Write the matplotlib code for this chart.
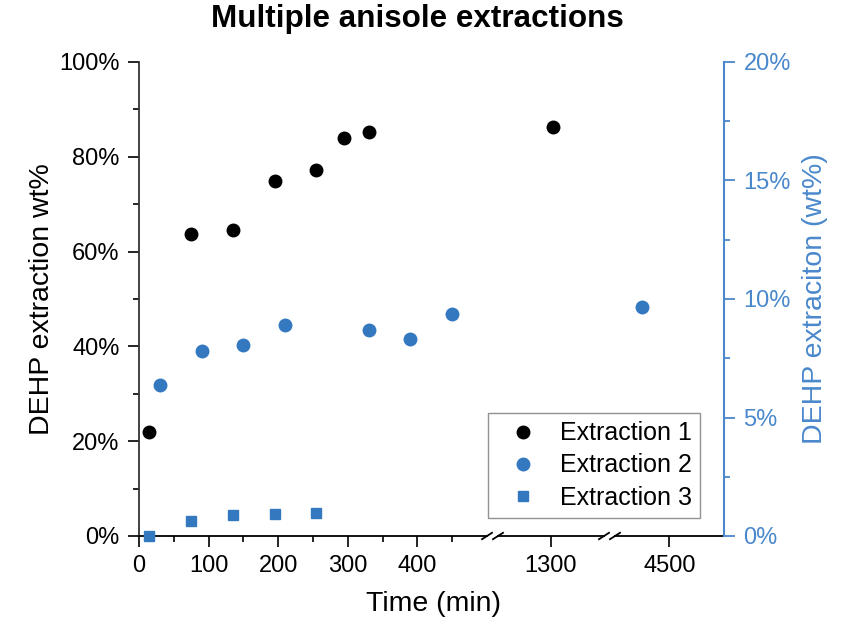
import matplotlib
matplotlib.use("Agg")
import matplotlib.pyplot as plt
from matplotlib.ticker import MultipleLocator, FuncFormatter, FixedLocator

plt.rcParams['font.family'] = ['Liberation Sans', 'DejaVu Sans']

# ---- data ----
t1 = [15, 75, 135, 195, 255, 295, 330, 1303]
e1 = [21.9, 63.8, 64.6, 74.8, 77.3, 83.9, 85.2, 86.2]          # left axis, %

t2 = [30, 90, 150, 210, 330, 390, 450, 4462]
e2 = [6.38, 7.82, 8.07, 8.92, 8.70, 8.32, 9.37, 9.68]          # right axis, %

t3 = [15, 75, 135, 195, 255]
e3 = [-0.02, 0.64, 0.89, 0.94, 0.99]                            # right axis, %

seg_limits = [(0, 500), (1225, 1375), (4425, 4575)]
seg_major = [[0, 100, 200, 300, 400], [1300], [4500]]
seg_minor = [[50, 150, 250, 350, 450], [], []]

BLUE = '#3479C0'
AXBLUE = '#4A88CC'
W, H = 846, 627

fig = plt.figure(figsize=(W / 100, H / 100), dpi=100)

bottom_px, top_px = 536, 62
seg_px = [(139, 487), (498, 604), (615, 724)]

def fx(px):
    return px / W

def fy(py):
    return 1 - py / H

axes = []
twins = []
for i, (x0, x1) in enumerate(seg_px):
    ax = fig.add_axes([fx(x0), fy(bottom_px), fx(x1 - x0), (bottom_px - top_px) / H])
    ax.set_xlim(*seg_limits[i])
    ax.set_ylim(0, 100)
    tw = ax.twinx()
    tw.set_ylim(0, 20)
    for a in (ax, tw):
        for s in ('top', 'right', 'left'):
            a.spines[s].set_visible(False)
        a.patch.set_visible(False)
    tw.spines['bottom'].set_visible(False)
    ax.xaxis.set_major_locator(FixedLocator(seg_major[i]))
    ax.xaxis.set_minor_locator(FixedLocator(seg_minor[i]))
    ax.tick_params(axis='x', which='major', direction='out', length=8, width=1.2,
                   labelsize=17, pad=6, color='black')
    ax.tick_params(axis='x', which='minor', direction='out', length=4.5, width=1.2)
    ax.tick_params(axis='y', left=False, labelleft=False)
    tw.tick_params(axis='y', right=False, labelright=False)
    ax.spines['bottom'].set_linewidth(1.3)
    axes.append(ax)
    twins.append(tw)

# left y axis
axL = axes[0]
axL.spines['left'].set_visible(True)
axL.spines['left'].set_linewidth(1.3)
axL.spines['left'].set_color('#333333')
axL.yaxis.set_major_locator(MultipleLocator(20))
axL.yaxis.set_minor_locator(MultipleLocator(10))
axL.yaxis.set_major_formatter(FuncFormatter(lambda v, p: f"{v:.0f}%"))
axL.tick_params(axis='y', which='both', left=True, labelleft=True, direction='out',
                width=1.2, labelsize=17, pad=6)
axL.tick_params(axis='y', which='major', length=8)
axL.tick_params(axis='y', which='minor', length=4.5)

# right y axis
axR = twins[2]
axR.spines['right'].set_visible(True)
axR.spines['right'].set_color(AXBLUE)
axR.spines['right'].set_linewidth(1.5)
axR.yaxis.set_major_locator(MultipleLocator(5))
axR.yaxis.set_minor_locator(MultipleLocator(2.5))
axR.yaxis.set_major_formatter(FuncFormatter(lambda v, p: f"{v:.0f}%"))
axR.tick_params(axis='y', which='both', right=True, labelright=True, direction='out',
                width=1.3, labelsize=17, pad=6, colors=AXBLUE)
axR.tick_params(axis='y', which='major', length=8)
axR.tick_params(axis='y', which='minor', length=4.5)

# data
h1 = h2 = h3 = None
for i in range(3):
    lo, hi = seg_limits[i]
    x1s = [t for t in t1 if lo <= t <= hi]
    y1s = [v for t, v in zip(t1, e1) if lo <= t <= hi]
    x2s = [t for t in t2 if lo <= t <= hi]
    y2s = [v for t, v in zip(t2, e2) if lo <= t <= hi]
    x3s = [t for t in t3 if lo <= t <= hi]
    y3s = [v for t, v in zip(t3, e3) if lo <= t <= hi]
    a = axes[i].plot(x1s, y1s, 'o', color='black', ms=9, clip_on=False, label='Extraction 1')
    b = twins[i].plot(x2s, y2s, 'o', color=BLUE, ms=9, clip_on=False, label='Extraction 2')
    c = twins[i].plot(x3s, y3s, 's', color=BLUE, ms=7.5, clip_on=False, label='Extraction 3')
    if i == 0:
        h1, h2, h3 = a[0], b[0], c[0]

# break marks
def slash(xc):
    fig.add_artist(plt.Line2D([fx(xc - 5), fx(xc + 5)], [fy(bottom_px + 3.2), fy(bottom_px - 3.2)],
                              color='black', lw=1.3, transform=fig.transFigure))

for xc in (487, 498, 604, 615):
    slash(xc)

# legend
leg = fig.legend([h1, h2, h3], ['Extraction 1', 'Extraction 2', 'Extraction 3'],
                 loc='upper left', bbox_to_anchor=(fx(488), fy(413)),
                 fontsize=18, frameon=True, fancybox=False, borderpad=0.33,
                 handlelength=2.1, handletextpad=0.45, labelspacing=0.33, borderaxespad=0)
leg.get_frame().set_edgecolor('#777777')
leg.get_frame().set_linewidth(1.0)

# labels
fig.text(fx(417.5), fy(19), 'Multiple anisole extractions', ha='center', va='center',
         fontsize=22.6, fontweight='bold')
fig.text(fx(433.5), fy(604), 'Time (min)', ha='center', va='center', fontsize=20.5)
fig.text(fx(42), fy(299), 'DEHP extraction wt%', ha='center', va='center',
         rotation=90, fontsize=20.5)
fig.text(fx(815), fy(299), 'DEHP extraciton (wt%)', ha='center', va='center',
         rotation=90, fontsize=20.5, color=AXBLUE)

fig.savefig('out.png', dpi=100)
